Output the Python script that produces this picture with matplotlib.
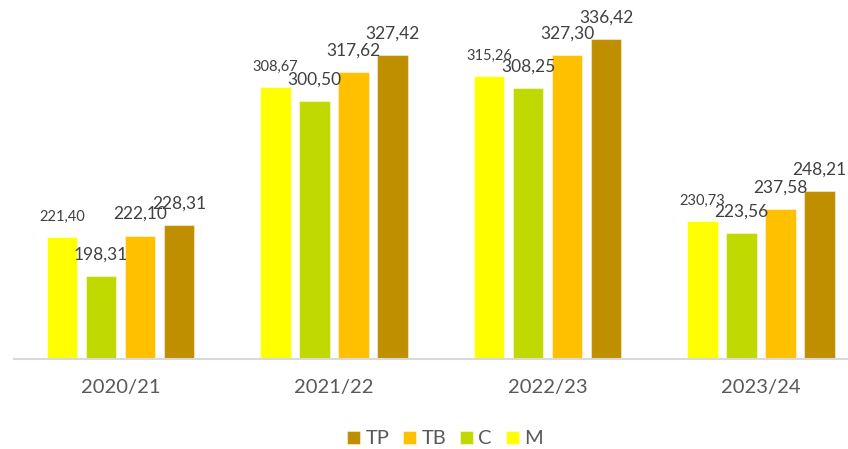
import matplotlib
matplotlib.use("Agg")
import matplotlib.pyplot as plt
import numpy as np

categories = ["2020/21", "2021/22", "2022/23", "2023/24"]
series_names = ["M", "C", "TB", "TP"]
M = [221.40, 308.67, 315.26, 230.73]
C = [198.31, 300.50, 308.25, 223.56]
TB = [222.10, 317.62, 327.30, 237.58]
TP = [228.31, 327.42, 336.42, 248.21]
colors = ["#FFFF00", "#C0D900", "#FFC000", "#BF8F00"]

plt.rcParams['font.family'] = ['Lato', 'DejaVu Sans']

W, H = 848, 449
fig = plt.figure(figsize=(W / 100, H / 100), dpi=100)
ax_left = 13.75 / W
ax_width = 854 / W
ax_bottom = (H - 359.3) / H
ax_height = 343.2 / H
ax = fig.add_axes([ax_left, ax_bottom, ax_width, ax_height])

data = [M, C, TB, TP]
x = np.arange(len(categories))
step = 0.1827
width = 0.143
bars = []
for i, (vals, col, name) in enumerate(zip(data, colors, series_names)):
    pos = x + (i - 1.5) * step
    b = ax.bar(pos, vals, width=width, color=col, edgecolor=(1, 1, 1, 0.45),
               linewidth=0.8, label=name, zorder=2)
    bars.append(b)
    small = (name == "M")
    fs = 10.5 if small else 12.5
    off = 20 if small else 21.5
    for xx, v in zip(pos, vals):
        ax.annotate(f"{v:.2f}".replace(".", ","), (xx, v),
                    xytext=(0, off * 0.72), textcoords="offset points",
                    ha="center", va="center", fontsize=fs, color="#404040")

ax.set_ylim(150, 350)
ax.set_xlim(-0.5, 3.5)
ax.set_xticks(x)
ax.set_xticklabels(categories, fontsize=14.5, color="#595959")
ax.tick_params(axis="x", length=0, pad=14)
ax.set_yticks([])
for s in ["top", "right", "left"]:
    ax.spines[s].set_visible(False)
ax.spines["bottom"].set_color("#D9D9D9")
ax.spines["bottom"].set_linewidth(1.5)
ax.spines["bottom"].set_zorder(3)

handles = [bars[3], bars[2], bars[1], bars[0]]
labels = ["TP", "TB", "C", "M"]
leg = fig.legend(handles, labels, ncol=4, loc="center",
                 bbox_to_anchor=(445 / W, 1 - 439 / H), frameon=False,
                 fontsize=14.5, handlelength=0.65, handleheight=0.65,
                 handletextpad=0.25, columnspacing=0.7, labelcolor="#595959",
                 borderpad=0)

fig.savefig("out.png", dpi=100)
